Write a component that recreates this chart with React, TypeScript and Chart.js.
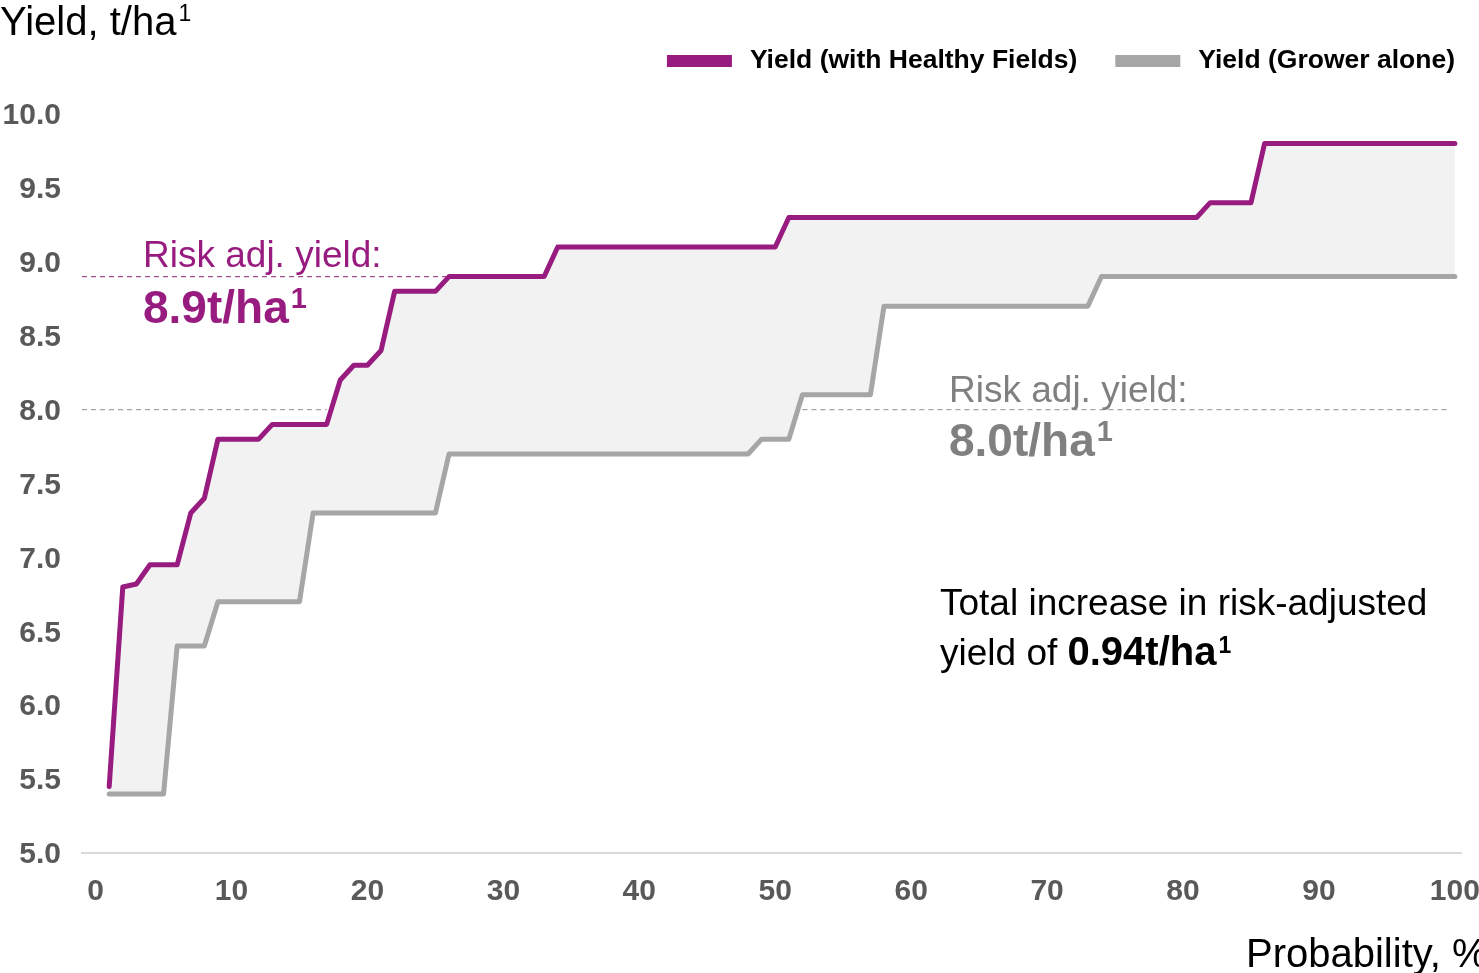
import React, { useEffect, useRef } from "react";
import { Chart, registerables } from "chart.js";

Chart.register(...registerables);

// ---- data ----
const healthyX = [1, 2, 3, 4, 6, 7, 8, 9, 12, 13, 17, 18, 19, 20, 21, 22, 25, 26, 33, 34, 50, 51, 81, 82, 85, 86, 100];
const healthyY = [5.45, 6.8, 6.82, 6.95, 6.95, 7.3, 7.4, 7.8, 7.8, 7.9, 7.9, 8.2, 8.3, 8.3, 8.4, 8.8, 8.8, 8.9, 8.9, 9.1, 9.1, 9.3, 9.3, 9.4, 9.4, 9.8, 9.8];
const growerX = [1, 5, 6, 8, 9, 15, 16, 25, 26, 48, 49, 51, 52, 57, 58, 73, 74, 100];
const growerY = [5.4, 5.4, 6.4, 6.4, 6.7, 6.7, 7.3, 7.3, 7.7, 7.7, 7.8, 7.8, 8.1, 8.1, 8.7, 8.7, 8.9, 8.9];
const seriesLabels = ["Yield (with Healthy Fields)", "Yield (Grower alone)"];
const xTicks = [0, 10, 20, 30, 40, 50, 60, 70, 80, 90, 100];
const yTicks = [5.0, 5.5, 6.0, 6.5, 7.0, 7.5, 8.0, 8.5, 9.0, 9.5, 10.0];
const riskAdjHealthy = 8.9;
const riskAdjGrower = 8.0;
const healthyRefX = [-1, 26];
const growerRefLeftX = [-1, 17];
const growerRefRightX = [52, 99.6];
const totalIncrease = "0.94";

const PURPLE = "#981c80";
const GRAY = "#a6a6a6";
const TEXT_GRAY = "#808080";
const FONT = '"Liberation Sans", Arial, Helvetica, sans-serif';

const toPoints = (xs: number[], ys: number[]) => xs.map((x, i) => ({ x, y: ys[i] }));

const annotationPlugin = {
  id: "annotations",
  afterDraw(chart: any) {
    const ctx: CanvasRenderingContext2D = chart.ctx;
    ctx.save();
    ctx.textAlign = "left";
    ctx.textBaseline = "alphabetic";

    const withSup = (
      main: string, x: number, y: number, mainFont: string, supFont: string, supY: number, color: string
    ) => {
      ctx.fillStyle = color;
      ctx.font = mainFont;
      ctx.fillText(main, x, y);
      const w = ctx.measureText(main).width;
      ctx.font = supFont;
      ctx.fillText("1", x + w + 2, supY);
    };

    // axis titles
    withSup("Yield, t/ha", 0, 35, `40px ${FONT}`, `23px ${FONT}`, 21, "#000");
    ctx.fillStyle = "#000";
    ctx.font = `40px ${FONT}`;
    ctx.fillText("Probability, %", 1246, 967);

    // risk adjusted labels
    ctx.fillStyle = PURPLE;
    ctx.font = `37px ${FONT}`;
    ctx.fillText("Risk adj. yield:", 143, 267);
    withSup(`${riskAdjHealthy.toFixed(1)}t/ha`, 143, 323, `bold 46px ${FONT}`, `bold 29px ${FONT}`, 308, PURPLE);

    ctx.fillStyle = TEXT_GRAY;
    ctx.font = `37px ${FONT}`;
    ctx.fillText("Risk adj. yield:", 949, 402);
    withSup(`${riskAdjGrower.toFixed(1)}t/ha`, 949, 456, `bold 46px ${FONT}`, `bold 29px ${FONT}`, 441, TEXT_GRAY);

    // total increase
    ctx.fillStyle = "#000";
    ctx.font = `37px ${FONT}`;
    ctx.fillText("Total increase in risk-adjusted", 940, 615);
    const pre = "yield of ";
    ctx.fillText(pre, 940, 665);
    const pw = ctx.measureText(pre).width;
    withSup(`${totalIncrease}t/ha`, 940 + pw, 665, `bold 40px ${FONT}`, `bold 23px ${FONT}`, 653, "#000");

    // legend (right aligned, ending at x=1455)
    ctx.font = `bold 26.5px ${FONT}`;
    ctx.textBaseline = "middle";
    const ds = chart.data.datasets.slice(0, 2);
    let right = 1455;
    const boxW = 65, boxH = 12, gapText = 18, gapItem = 38, cy = 61;
    for (let i = ds.length - 1; i >= 0; i--) {
      const label = ds[i].label as string;
      const tw = ctx.measureText(label).width;
      const tx = right - tw;
      const bx = tx - gapText - boxW;
      ctx.fillStyle = ds[i].borderColor as string;
      ctx.fillRect(bx, cy - boxH / 2, boxW, boxH);
      ctx.fillStyle = "#000";
      ctx.fillText(label, tx, cy);
      right = bx - gapItem;
    }
    ctx.restore();
  },
};

export default function App() {
  const canvasRef = useRef<HTMLCanvasElement | null>(null);

  useEffect(() => {
    if (!canvasRef.current) return;
    const tickFont = { family: FONT, size: 30, weight: "bold" as const };
    const chart = new Chart(canvasRef.current, {
      type: "line",
      data: {
        datasets: [
          {
            label: seriesLabels[0],
            data: toPoints(healthyX, healthyY),
            borderColor: PURPLE,
            backgroundColor: "#f2f2f2",
            borderWidth: 5,
            pointRadius: 0,
            tension: 0,
            borderCapStyle: "round",
            borderJoinStyle: "round",
            fill: "+1",
          },
          {
            label: seriesLabels[1],
            data: toPoints(growerX, growerY),
            borderColor: GRAY,
            backgroundColor: GRAY,
            borderWidth: 5,
            pointRadius: 0,
            tension: 0,
            borderCapStyle: "round",
            borderJoinStyle: "round",
            fill: false,
          },
          {
            label: "Risk adj. (Healthy Fields)",
            data: healthyRefX.map((x) => ({ x, y: riskAdjHealthy })),
            borderColor: "#a14c94",
            borderWidth: 1.3,
            borderDash: [5, 4],
            pointRadius: 0,
            fill: false,
          },
          {
            label: "Risk adj. (Grower) left",
            data: growerRefLeftX.map((x) => ({ x, y: riskAdjGrower })),
            borderColor: "#a6a6a6",
            borderWidth: 1.3,
            borderDash: [5, 4],
            pointRadius: 0,
            fill: false,
          },
          {
            label: "Risk adj. (Grower) right",
            data: growerRefRightX.map((x) => ({ x, y: riskAdjGrower })),
            borderColor: "#a6a6a6",
            borderWidth: 1.3,
            borderDash: [5, 4],
            pointRadius: 0,
            fill: false,
          },
        ],
      },
      options: {
        responsive: false,
        animation: false,
        devicePixelRatio: 1,
        layout: { padding: { top: 0, right: 18, bottom: 0, left: 0 } },
        plugins: {
          legend: { display: false },
          tooltip: { enabled: false },
          filler: { drawTime: "beforeDatasetsDraw" },
        },
        scales: {
          x: {
            type: "linear",
            min: -1,
            max: 100.45,
            afterBuildTicks: (s: any) => {
              s.ticks = xTicks.map((v) => ({ value: v }));
            },
            afterFit: (s: any) => {
              s.height = 120;
              s.paddingLeft = 0;
              s.paddingRight = 0;
            },
            grid: { display: false, drawTicks: false },
            border: { display: true, color: "#d9d9d9", width: 2 },
            ticks: {
              font: tickFont,
              color: "#595959",
              padding: 21,
              maxRotation: 0,
              autoSkip: false,
              callback: (v: any) => String(v),
            },
          },
          y: {
            type: "linear",
            min: 5,
            max: 10,
            afterBuildTicks: (s: any) => {
              s.ticks = yTicks.map((v) => ({ value: v }));
            },
            afterFit: (s: any) => {
              s.width = 82;
              s.paddingTop = 114;
            },
            grid: { display: false, drawTicks: false },
            border: { display: false },
            ticks: {
              font: tickFont,
              color: "#595959",
              padding: 21,
              labelOffset: 2,
              autoSkip: false,
              callback: (v: any) => Number(v).toFixed(1),
            },
          },
        },
      },
      plugins: [annotationPlugin],
    } as any);
    return () => chart.destroy();
  }, []);

  return (
    <div style={{ position: "absolute", left: 0, top: 0, width: 1479, height: 973, background: "#fff" }}>
      <canvas ref={canvasRef} width={1479} height={973} style={{ display: "block" }} />
    </div>
  );
}
